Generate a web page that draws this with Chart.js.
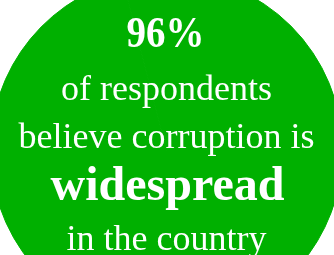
<!DOCTYPE html>
<html>
<head>
<meta charset="utf-8">
<script src="https://cdn.jsdelivr.net/npm/chart.js@4/dist/chart.umd.min.js"></script>
<style>
  html, body { margin: 0; padding: 0; background: #fff; overflow: hidden; }
  #wrap { width: 334px; height: 255px; position: relative; }
</style>
</head>
<body>
<div id="wrap"><canvas id="myChart"></canvas></div>
<script>
// survey share
var labels = ['believe corruption is widespread', 'other answers'];
var shares = [96, 4];
var headline = '96%';
var captionLines = ['of respondents', 'believe corruption is', 'widespread', 'in the country'];

var green = '#00b000';

// draws the white text on top of the disc
var calloutText = {
  id: 'calloutText',
  afterDatasetsDraw: function(chart) {
    var ctx = chart.ctx;
    var arc = chart.getDatasetMeta(0).data[0];
    var cx = arc.x;
    var cy = arc.y;
    ctx.save();
    ctx.fillStyle = '#fff';
    ctx.textAlign = 'center';
    ctx.textBaseline = 'alphabetic';

    ctx.font = 'bold 45px "Liberation Serif", serif';
    ctx.fillText(headline, cx - 1, cy - 103.5, 78);

    ctx.font = '36px "Liberation Serif", serif';
    ctx.fillText(captionLines[0], cx, cy - 50.5, 212);
    ctx.fillText(captionLines[1], cx, cy - 2.5, 298);

    ctx.font = 'bold 48px "Liberation Serif", serif';
    ctx.fillText(captionLines[2], cx + 1, cy + 49.5, 236);

    ctx.font = '36px "Liberation Serif", serif';
    ctx.fillText(captionLines[3], cx, cy + 99.5, 204);
    ctx.restore();
  }
};

var ctx = document.getElementById('myChart');
var config = {
  type: 'pie',
  data: {
    labels: labels,
    datasets: [{
      data: shares,
      backgroundColor: [green, green],
      borderColor: green,
      borderWidth: 1,
      radius: 176,
      clip: false
    }]
  },
  options: {
    responsive: true,
    maintainAspectRatio: false,
    animation: false,
    layout: { padding: { top: 46, right: 1, left: 0, bottom: 0 } },
    plugins: {
      legend: { display: false },
      tooltip: { enabled: false }
    }
  },
  plugins: [calloutText]
};
var myPie = new Chart(ctx, config);
</script>
</body>
</html>
